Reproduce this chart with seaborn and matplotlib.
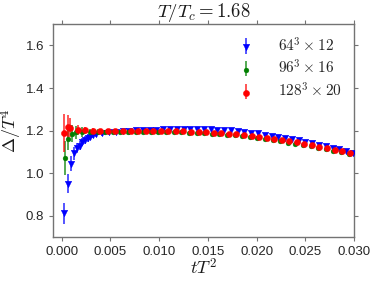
import numpy as np
import pandas as pd
import matplotlib
matplotlib.use("Agg")
import matplotlib.pyplot as plt
import seaborn as sns
from matplotlib.legend_handler import HandlerTuple

# ---- data ----
x_64 = [0.00027, 0.00062, 0.00092, 0.00129, 0.00157, 0.00185, 0.00211, 0.00239, 0.00267, 0.00293, 0.00321, 0.00349,
        0.00417, 0.00486, 0.00556, 0.00625, 0.00694, 0.00764, 0.00833, 0.00903, 0.00972, 0.01042, 0.01111, 0.01181,
        0.01250, 0.01319, 0.01389, 0.01458, 0.01528, 0.01597, 0.01667, 0.01736, 0.01806, 0.01875, 0.01944, 0.02014,
        0.02083, 0.02153, 0.02222, 0.02292, 0.02361, 0.02431, 0.02500, 0.02569, 0.02639, 0.02708, 0.02778, 0.02847,
        0.02917, 0.02986]
y_64 = [0.812, 0.952, 1.045, 1.094, 1.118, 1.130, 1.146, 1.157, 1.165, 1.172, 1.178, 1.183,
        1.188, 1.192, 1.195, 1.197, 1.199, 1.201, 1.203, 1.204, 1.205, 1.206, 1.207, 1.207,
        1.207, 1.207, 1.207, 1.206, 1.206, 1.205, 1.203, 1.201, 1.198, 1.195, 1.191, 1.187,
        1.182, 1.177, 1.172, 1.166, 1.160, 1.154, 1.148, 1.141, 1.134, 1.127, 1.120, 1.112,
        1.104, 1.095]
e_64 = [0.050, 0.045, 0.035, 0.030, 0.025, 0.022, 0.020, 0.018, 0.016, 0.015, 0.014, 0.013,
        0.011, 0.010, 0.009, 0.008, 0.007, 0.007, 0.006, 0.006, 0.006, 0.005, 0.005, 0.005,
        0.005, 0.005, 0.005, 0.005, 0.005, 0.005, 0.005, 0.005, 0.005, 0.005, 0.005, 0.005,
        0.005, 0.005, 0.005, 0.005, 0.005, 0.005, 0.005, 0.005, 0.005, 0.005, 0.005, 0.005,
        0.005, 0.005]

x_96 = [0.00030, 0.00068, 0.00107, 0.00146,
        0.00213, 0.00291, 0.00369, 0.00447, 0.00525, 0.00603, 0.00681, 0.00759, 0.00837, 0.00915,
        0.00993, 0.01071, 0.01149, 0.01227, 0.01305, 0.01383, 0.01461, 0.01539, 0.01617, 0.01695,
        0.01773, 0.01851, 0.01929, 0.02007, 0.02085, 0.02163, 0.02241, 0.02319, 0.02397, 0.02475,
        0.02553, 0.02631, 0.02709, 0.02787, 0.02865, 0.02943]
y_96 = [1.070, 1.160, 1.185, 1.192,
        1.193, 1.194, 1.193, 1.193, 1.193, 1.193, 1.193, 1.193, 1.193, 1.193,
        1.193, 1.193, 1.192, 1.192, 1.191, 1.190, 1.188, 1.186, 1.184, 1.181,
        1.178, 1.175, 1.171, 1.166, 1.161, 1.156, 1.150, 1.144, 1.138, 1.132,
        1.126, 1.119, 1.113, 1.106, 1.098, 1.090]
e_96 = [0.080, 0.050, 0.040, 0.030,
        0.022, 0.016, 0.013, 0.011, 0.010, 0.009, 0.009, 0.008, 0.008, 0.008,
        0.008, 0.008, 0.008, 0.008, 0.008, 0.008, 0.008, 0.008, 0.008, 0.008,
        0.008, 0.008, 0.008, 0.008, 0.008, 0.008, 0.008, 0.008, 0.008, 0.008,
        0.008, 0.008, 0.008, 0.008, 0.008, 0.008]

x_128 = [0.00027, 0.00060, 0.00085,
         0.00164, 0.00242, 0.00319, 0.00397, 0.00474, 0.00552, 0.00629, 0.00707, 0.00784, 0.00862,
         0.00939, 0.01017, 0.01094, 0.01172, 0.01249, 0.01327, 0.01404, 0.01482, 0.01559, 0.01637,
         0.01714, 0.01792, 0.01869, 0.01947, 0.02024, 0.02102, 0.02179, 0.02257, 0.02334, 0.02412,
         0.02489, 0.02567, 0.02644, 0.02722, 0.02799, 0.02877, 0.02954]
y_128 = [1.188, 1.215, 1.213,
         1.203, 1.201, 1.200, 1.199, 1.199, 1.199, 1.199, 1.199, 1.199, 1.199,
         1.199, 1.198, 1.198, 1.197, 1.197, 1.196, 1.195, 1.193, 1.191, 1.189,
         1.186, 1.183, 1.180, 1.176, 1.172, 1.167, 1.162, 1.157, 1.151, 1.145,
         1.139, 1.132, 1.125, 1.118, 1.111, 1.104, 1.096]
e_128 = [0.090, 0.060, 0.045,
         0.025, 0.015, 0.012, 0.010, 0.009, 0.008, 0.007, 0.007, 0.006, 0.006,
         0.006, 0.006, 0.006, 0.006, 0.006, 0.006, 0.006, 0.006, 0.006, 0.006,
         0.006, 0.006, 0.006, 0.006, 0.006, 0.006, 0.006, 0.006, 0.006, 0.006,
         0.006, 0.006, 0.006, 0.006, 0.006, 0.006, 0.006]

labels = [r"$64^3\times 12$", r"$96^3\times 16$", r"$128^3\times 20$"]
x_ticks = [0.000, 0.005, 0.010, 0.015, 0.020, 0.025, 0.030]
x_ticklabels = ["0.000", "0.005", "0.010", "0.015", "0.020", "0.025", "0.030"]
y_ticks = [0.8, 1.0, 1.2, 1.4, 1.6]
y_ticklabels = ["0.8", "1.0", "1.2", "1.4", "1.6"]

colors = ["#0000ff", "#007f00", "#ff0000"]
markers = ["v", "o", "o"]
msizes = [22, 12, 20]

series = [(x_64, y_64, e_64), (x_96, y_96, e_96), (x_128, y_128, e_128)]

# ---- style ----
sns.set_style("ticks")
plt.rcParams["font.family"] = ["Liberation Sans", "DejaVu Sans"]
plt.rcParams["mathtext.fontset"] = "cm"

fig = plt.figure(figsize=(3.74, 2.81), dpi=100)
ax = fig.add_axes([0.1425, 0.1555, 0.8045, 0.759])

handles = []
for (xs, ys, es), lab, c, m, s in zip(series, labels, colors, markers, msizes):
    df = pd.DataFrame({"x": xs, "y": ys, "e": es})
    eb = ax.errorbar(df["x"], df["y"], yerr=df["e"], fmt="none", ecolor=c,
                     elinewidth=1.1, capsize=0, alpha=0.85)
    sns.scatterplot(data=df, x="x", y="y", ax=ax, color=c, marker=m, s=s,
                    edgecolor=c, linewidth=0.3, legend=False, zorder=3)
    handles.append((eb, ax.collections[-1]))

ax.set_xlim(-0.00086, 0.030)
ax.set_ylim(0.7, 1.7)
ax.set_xticks(x_ticks)
ax.set_xticklabels(x_ticklabels)
ax.set_yticks(y_ticks)
ax.set_yticklabels(y_ticklabels)

for sp in ax.spines.values():
    sp.set_visible(True)
    sp.set_color("0.45")
    sp.set_linewidth(1.0)
ax.tick_params(which="both", direction="out", length=3, width=0.8, color="0.45",
               top=True, right=True, labeltop=False, labelright=False,
               labelsize=9.5, labelcolor="0.15")

ax.set_title(r"$T/T_c = 1.68$", fontsize=13.5, pad=3, color="0.1")
ax.set_xlabel(r"$tT^2$", fontsize=13, labelpad=0, color="0.1")
ax.set_ylabel(r"$\Delta/T^4$", fontsize=13, labelpad=1, color="0.1")

ax.legend(handles, labels, loc="upper right", frameon=False, fontsize=11,
          handler_map={tuple: HandlerTuple(ndivide=1)},
          handlelength=1.0, handletextpad=1.6, labelspacing=0.3,
          borderaxespad=0.4, bbox_to_anchor=(1.0, 1.0))

fig.savefig("out.png", dpi=100)
